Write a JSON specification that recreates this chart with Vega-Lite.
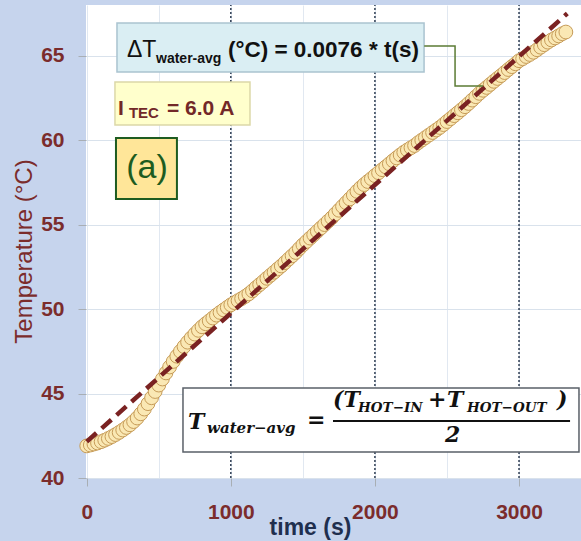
{
  "$schema": "https://vega.github.io/schema/vega-lite/v6.json",
  "width": 495,
  "height": 473,
  "autosize": {"type": "none"},
  "padding": {"left": 86, "top": 5, "right": 0, "bottom": 63},
  "background": "#c6d4ed",
  "config": {"view": {"stroke": null, "fill": "#ffffff"}},
  "encoding": {
    "x": {
      "field": "t", "type": "quantitative",
      "scale": {"domain": [-5, 3430], "nice": false, "zero": false},
      "axis": {
        "values": [0, 500, 1000, 1500, 2000, 2500, 3000],
        "format": "d",
        "labelExpr": "datum.value % 1000 === 0 ? datum.label : ''",
        "grid": true, "gridColor": "#e1e8f1", "gridWidth": 1,
        "domain": false,
        "tickSize": 8, "tickColor": "#a8aeb4",
        "tickOpacity": {"condition": {"test": "datum.value % 1000 === 0", "value": 1}, "value": 0},
        "labelFont": "Liberation Sans", "labelFontSize": 21, "labelFontWeight": "bold",
        "labelColor": "#7b2c2c", "labelPadding": 15, "labelFlush": false,
        "title": "time (s)", "titleFont": "Liberation Sans", "titleFontSize": 23, "titleFontWeight": "bold",
        "titleColor": "#1f2f4f", "titleX": 224, "titleY": 56, "titleBaseline": "alphabetic", "titleAlign": "center"
      }
    },
    "y": {
      "field": "T", "type": "quantitative",
      "scale": {"domain": [40, 68], "nice": false, "zero": false},
      "axis": {
        "values": [40, 45, 50, 55, 60, 65],
        "grid": true, "gridColor": "#d9e2ec", "gridWidth": 1,
        "domain": false,
        "tickSize": 8, "tickColor": "#a8aeb4",
        "labelFont": "Liberation Sans", "labelFontSize": 21, "labelFontWeight": "bold",
        "labelColor": "#7b2c2c", "labelPadding": 14, "labelFlush": false,
        "title": "Temperature (°C)", "titleFont": "Liberation Sans", "titleFontSize": 24, "titleFontWeight": "normal",
        "titleColor": "#7b2c2c", "titleX": -62, "titleY": 246, "titleAngle": 270, "titleBaseline": "middle", "titleAlign": "center"
      }
    }
  },
  "layer": [
    {
      "data": {"values": [{"t": 1000, "T": 40, "T2": 68}, {"t": 2000, "T": 40, "T2": 68}, {"t": 3000, "T": 40, "T2": 68}]},
      "mark": {"type": "rule", "color": "#2e3d52", "strokeWidth": 1.5, "strokeDash": [2, 2]},
      "encoding": {"y2": {"field": "T2"}}
    },
    {
      "data": {"values": [{"t": 210, "t2": 2341, "T": 64.03, "T2": 66.93}]},
      "mark": {"type": "rect", "fill": "#daeef3", "stroke": "#aac3d0", "strokeWidth": 1.5},
      "encoding": {"x2": {"field": "t2"}, "y2": {"field": "T2"}}
    },
    {
      "data": {"values": [{"t": 196, "t2": 1133, "T": 60.9, "T2": 63.44}]},
      "mark": {"type": "rect", "fill": "#ffffcc", "stroke": "#dcd8a8", "strokeWidth": 1.5},
      "encoding": {"x2": {"field": "t2"}, "y2": {"field": "T2"}}
    },
    {
      "data": {"values": [{"t": 203, "t2": 626, "T": 56.52, "T2": 60.13}]},
      "mark": {"type": "rect", "fill": "#ffe699", "stroke": "#1e5c20", "strokeWidth": 2},
      "encoding": {"x2": {"field": "t2"}, "y2": {"field": "T2"}}
    },
    {
      "data": {"values": [{"t": 668, "t2": 3416, "T": 41.54, "T2": 45.33}]},
      "mark": {"type": "rect", "fill": "#ffffff", "stroke": "#5a6068", "strokeWidth": 1.5},
      "encoding": {"x2": {"field": "t2"}, "y2": {"field": "T2"}}
    },
    {
      "data": {"values": [
        {"t": 0, "T": 41.90}, {"t": 25, "T": 41.95}, {"t": 50, "T": 42.01}, {"t": 75, "T": 42.07},
        {"t": 100, "T": 42.15}, {"t": 125, "T": 42.24}, {"t": 150, "T": 42.34}, {"t": 175, "T": 42.45},
        {"t": 200, "T": 42.57}, {"t": 225, "T": 42.70}, {"t": 250, "T": 42.84}, {"t": 275, "T": 42.99},
        {"t": 300, "T": 43.15}, {"t": 325, "T": 43.34}, {"t": 350, "T": 43.55}, {"t": 375, "T": 43.80},
        {"t": 400, "T": 44.08}, {"t": 425, "T": 44.40}, {"t": 450, "T": 44.75}, {"t": 475, "T": 45.12},
        {"t": 500, "T": 45.50}, {"t": 525, "T": 45.86}, {"t": 550, "T": 46.22}, {"t": 575, "T": 46.57},
        {"t": 600, "T": 46.90}, {"t": 625, "T": 47.21}, {"t": 650, "T": 47.50}, {"t": 675, "T": 47.78},
        {"t": 700, "T": 48.04}, {"t": 725, "T": 48.29}, {"t": 750, "T": 48.52}, {"t": 775, "T": 48.74},
        {"t": 800, "T": 48.95}, {"t": 825, "T": 49.13}, {"t": 850, "T": 49.30}, {"t": 875, "T": 49.47},
        {"t": 900, "T": 49.64}, {"t": 925, "T": 49.80}, {"t": 950, "T": 49.95}, {"t": 975, "T": 50.10},
        {"t": 1000, "T": 50.25}, {"t": 1025, "T": 50.38}, {"t": 1050, "T": 50.50}, {"t": 1075, "T": 50.62},
        {"t": 1100, "T": 50.75}, {"t": 1125, "T": 50.90}, {"t": 1150, "T": 51.08}, {"t": 1175, "T": 51.27},
        {"t": 1200, "T": 51.45}, {"t": 1225, "T": 51.63}, {"t": 1250, "T": 51.82}, {"t": 1275, "T": 52.00},
        {"t": 1300, "T": 52.18}, {"t": 1325, "T": 52.37}, {"t": 1350, "T": 52.55}, {"t": 1375, "T": 52.75},
        {"t": 1400, "T": 52.95}, {"t": 1425, "T": 53.15}, {"t": 1450, "T": 53.35}, {"t": 1475, "T": 53.58},
        {"t": 1500, "T": 53.80}, {"t": 1525, "T": 54.00}, {"t": 1550, "T": 54.20}, {"t": 1575, "T": 54.40},
        {"t": 1600, "T": 54.60}, {"t": 1625, "T": 54.80}, {"t": 1650, "T": 55.00}, {"t": 1675, "T": 55.20},
        {"t": 1700, "T": 55.40}, {"t": 1725, "T": 55.63}, {"t": 1750, "T": 55.85}, {"t": 1775, "T": 56.08},
        {"t": 1800, "T": 56.30}, {"t": 1825, "T": 56.52}, {"t": 1850, "T": 56.75}, {"t": 1875, "T": 56.97},
        {"t": 1900, "T": 57.18}, {"t": 1925, "T": 57.37}, {"t": 1950, "T": 57.55}, {"t": 1975, "T": 57.72},
        {"t": 2000, "T": 57.90}, {"t": 2025, "T": 58.07}, {"t": 2050, "T": 58.25}, {"t": 2075, "T": 58.42},
        {"t": 2100, "T": 58.60}, {"t": 2125, "T": 58.78}, {"t": 2150, "T": 58.95}, {"t": 2175, "T": 59.12},
        {"t": 2200, "T": 59.28}, {"t": 2225, "T": 59.42}, {"t": 2250, "T": 59.55}, {"t": 2275, "T": 59.68},
        {"t": 2300, "T": 59.85}, {"t": 2325, "T": 60.00}, {"t": 2350, "T": 60.15}, {"t": 2375, "T": 60.30},
        {"t": 2400, "T": 60.45}, {"t": 2425, "T": 60.60}, {"t": 2450, "T": 60.75}, {"t": 2475, "T": 60.92},
        {"t": 2500, "T": 61.10}, {"t": 2525, "T": 61.27}, {"t": 2550, "T": 61.45}, {"t": 2575, "T": 61.62},
        {"t": 2600, "T": 61.80}, {"t": 2625, "T": 61.98}, {"t": 2650, "T": 62.17}, {"t": 2675, "T": 62.37},
        {"t": 2700, "T": 62.57}, {"t": 2725, "T": 62.77}, {"t": 2750, "T": 62.95}, {"t": 2775, "T": 63.12},
        {"t": 2800, "T": 63.30}, {"t": 2825, "T": 63.48}, {"t": 2850, "T": 63.65}, {"t": 2875, "T": 63.82},
        {"t": 2900, "T": 64.00}, {"t": 2925, "T": 64.18}, {"t": 2950, "T": 64.35}, {"t": 2975, "T": 64.52},
        {"t": 3000, "T": 64.70}, {"t": 3025, "T": 64.82}, {"t": 3050, "T": 64.95}, {"t": 3075, "T": 65.07},
        {"t": 3100, "T": 65.20}, {"t": 3125, "T": 65.35}, {"t": 3150, "T": 65.50}, {"t": 3175, "T": 65.65},
        {"t": 3200, "T": 65.80}, {"t": 3225, "T": 65.93}, {"t": 3250, "T": 66.05}, {"t": 3275, "T": 66.17},
        {"t": 3300, "T": 66.30}, {"t": 3325, "T": 66.40}
      ]},
      "mark": {"type": "point", "shape": "circle", "filled": true, "size": 190, "fill": "#fae8b4", "stroke": "#c69b58", "strokeWidth": 1, "opacity": 1}
    },
    {
      "data": {"values": [{"t": 0, "T": 42.15}, {"t": 3335, "T": 67.5}]},
      "mark": {"type": "line", "color": "#7a2222", "strokeWidth": 4.5, "strokeDash": [13, 7], "strokeCap": "butt"}
    },
    {
      "data": {"values": [{"t": 2342, "T": 65.57, "o": 1}, {"t": 2556, "T": 65.57, "o": 2}, {"t": 2556, "T": 63.2, "o": 3}, {"t": 2750, "T": 63.2, "o": 4}]},
      "mark": {"type": "line", "color": "#5b7b34", "strokeWidth": 1.5},
      "encoding": {"order": {"field": "o", "type": "quantitative"}}
    },
    {
      "data": {"values": [{"t": 1709, "t2": 3354, "T": 43.37}]},
      "mark": {"type": "rule", "color": "#111111", "strokeWidth": 2},
      "encoding": {"x2": {"field": "t2"}}
    },
    {
      "data": {"values": [{"t": 279, "T": 64.92, "label": "ΔT"}]},
      "mark": {"type": "text", "align": "left", "baseline": "alphabetic", "font": "Liberation Sans", "fontSize": 23, "fontWeight": "normal", "color": "#111111"},
      "encoding": {"text": {"field": "label"}}
    },
    {
      "data": {"values": [{"t": 481, "T": 64.57, "label": "water-avg"}]},
      "mark": {"type": "text", "align": "left", "baseline": "alphabetic", "font": "Liberation Sans", "fontSize": 14, "fontWeight": "bold", "color": "#111111"},
      "encoding": {"text": {"field": "label"}}
    },
    {
      "data": {"values": [{"t": 980, "T": 64.92, "label": "(°C) = 0.0076 * t(s)"}]},
      "mark": {"type": "text", "align": "left", "baseline": "alphabetic", "font": "Liberation Sans", "fontSize": 22.5, "fontWeight": "bold", "color": "#111111"},
      "encoding": {"text": {"field": "label"}}
    },
    {
      "data": {"values": [{"t": 217, "T": 61.49, "label": "I"}, {"t": 557, "T": 61.49, "label": "= 6.0 A"}]},
      "mark": {"type": "text", "align": "left", "baseline": "alphabetic", "font": "Liberation Sans", "fontSize": 21, "fontWeight": "bold", "color": "#722828"},
      "encoding": {"text": {"field": "label"}}
    },
    {
      "data": {"values": [{"t": 293, "T": 61.31, "label": "TEC"}]},
      "mark": {"type": "text", "align": "left", "baseline": "alphabetic", "font": "Liberation Sans", "fontSize": 15, "fontWeight": "bold", "color": "#722828"},
      "encoding": {"text": {"field": "label"}}
    },
    {
      "data": {"values": [{"t": 418, "T": 58.35, "label": "(a)"}]},
      "mark": {"type": "text", "align": "center", "baseline": "middle", "font": "Liberation Sans", "fontSize": 34, "fontWeight": "normal", "color": "#1d5c1f"},
      "encoding": {"text": {"field": "label"}}
    },
    {
      "data": {"values": [
        {"t": 703, "T": 42.90, "label": "T"},
        {"t": 1529, "T": 43.02, "label": "="},
        {"t": 1709, "T": 44.20, "label": "(T"},
        {"t": 2368, "T": 44.20, "label": "+"},
        {"t": 2500, "T": 44.20, "label": "T"},
        {"t": 3264, "T": 44.20, "label": ")"},
        {"t": 2486, "T": 42.13, "label": "2"}
      ]},
      "mark": {"type": "text", "align": "left", "baseline": "alphabetic", "font": "DejaVu Serif", "fontSize": 22, "fontWeight": "bold", "fontStyle": "italic", "color": "#111111"},
      "encoding": {"text": {"field": "label"}}
    },
    {
      "data": {"values": [{"t": 835, "T": 42.66, "label": "water−avg"}]},
      "mark": {"type": "text", "align": "left", "baseline": "alphabetic", "font": "DejaVu Serif", "fontSize": 15, "fontWeight": "bold", "fontStyle": "italic", "color": "#111111"},
      "encoding": {"text": {"field": "label"}}
    },
    {
      "data": {"values": [
        {"t": 1883, "T": 43.91, "label": "HOT−IN"},
        {"t": 2639, "T": 43.91, "label": "HOT−OUT"}
      ]},
      "mark": {"type": "text", "align": "left", "baseline": "alphabetic", "font": "DejaVu Serif", "fontSize": 13.5, "fontWeight": "bold", "fontStyle": "italic", "color": "#111111"},
      "encoding": {"text": {"field": "label"}}
    }
  ]
}
